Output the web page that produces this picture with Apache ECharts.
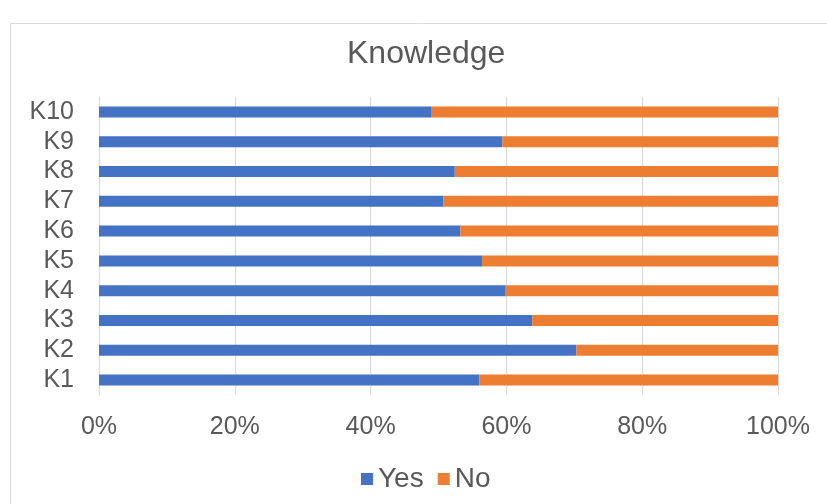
<!DOCTYPE html>
<html>
<head>
<meta charset="utf-8">
<script src="https://cdn.jsdelivr.net/npm/echarts@6/dist/echarts.min.js"></script>
<style>
html,body{margin:0;padding:0;background:#fff;}
#chart{width:827px;height:504px;}
</style>
</head>
<body>
<div id="chart"></div>
<script>
const categories = ['K1','K2','K3','K4','K5','K6','K7','K8','K9','K10'];
const yesValues = [56.0, 70.3, 63.8, 59.9, 56.4, 53.2, 50.7, 52.4, 59.4, 49.0];
const noValues  = [44.0, 29.7, 36.2, 40.1, 43.6, 46.8, 49.3, 47.6, 40.6, 51.0];
const seriesNames = ['Yes', 'No'];
const xTicks = [0, 20, 40, 60, 80, 100];

const FONT = 'Liberation Sans, Arial, sans-serif';
const TXT = '#595959';

const chart = echarts.init(document.getElementById('chart'), null, {renderer: 'canvas'});
chart.setOption({
  animation: false,
  backgroundColor: '#fff',
  graphic: [{
    type: 'rect',
    shape: {x: 10.5, y: 23.5, width: 840, height: 500},
    style: {fill: 'none', stroke: '#d9d9d9', lineWidth: 1},
    silent: true
  }],
  title: {
    text: 'Knowledge',
    left: 342,
    top: 33,
    textStyle: {fontFamily: FONT, fontSize: 32, fontWeight: 'normal', color: TXT}
  },
  grid: {left: 99, right: 49, top: 97, bottom: 109, containLabel: false},
  legend: {
    data: seriesNames,
    top: 460,
    left: 356,
    icon: 'rect',
    itemWidth: 12,
    itemHeight: 12,
    itemGap: 14,
    textStyle: {fontFamily: FONT, fontSize: 28, color: TXT}
  },
  xAxis: {
    type: 'value',
    min: xTicks[0],
    max: xTicks[xTicks.length - 1],
    interval: 20,
    axisLine: {show: false},
    axisTick: {show: false},
    splitLine: {show: true, lineStyle: {color: '#d9d9d9', width: 1}},
    axisLabel: {formatter: '{value}%', fontFamily: FONT, fontSize: 25, color: TXT, margin: 20}
  },
  yAxis: {
    type: 'category',
    data: categories,
    axisLine: {show: true, lineStyle: {color: '#d9d9d9'}},
    axisTick: {show: false},
    axisLabel: {interval: 0, fontFamily: FONT, fontSize: 25, color: TXT, margin: 25}
  },
  series: [
    {name: seriesNames[0], type: 'bar', stack: 'total', data: yesValues, barWidth: 11,
     itemStyle: {color: '#4472C4'}},
    {name: seriesNames[1], type: 'bar', stack: 'total', data: noValues, barWidth: 11,
     itemStyle: {color: '#ED7D31'}}
  ]
});
</script>
</body>
</html>
